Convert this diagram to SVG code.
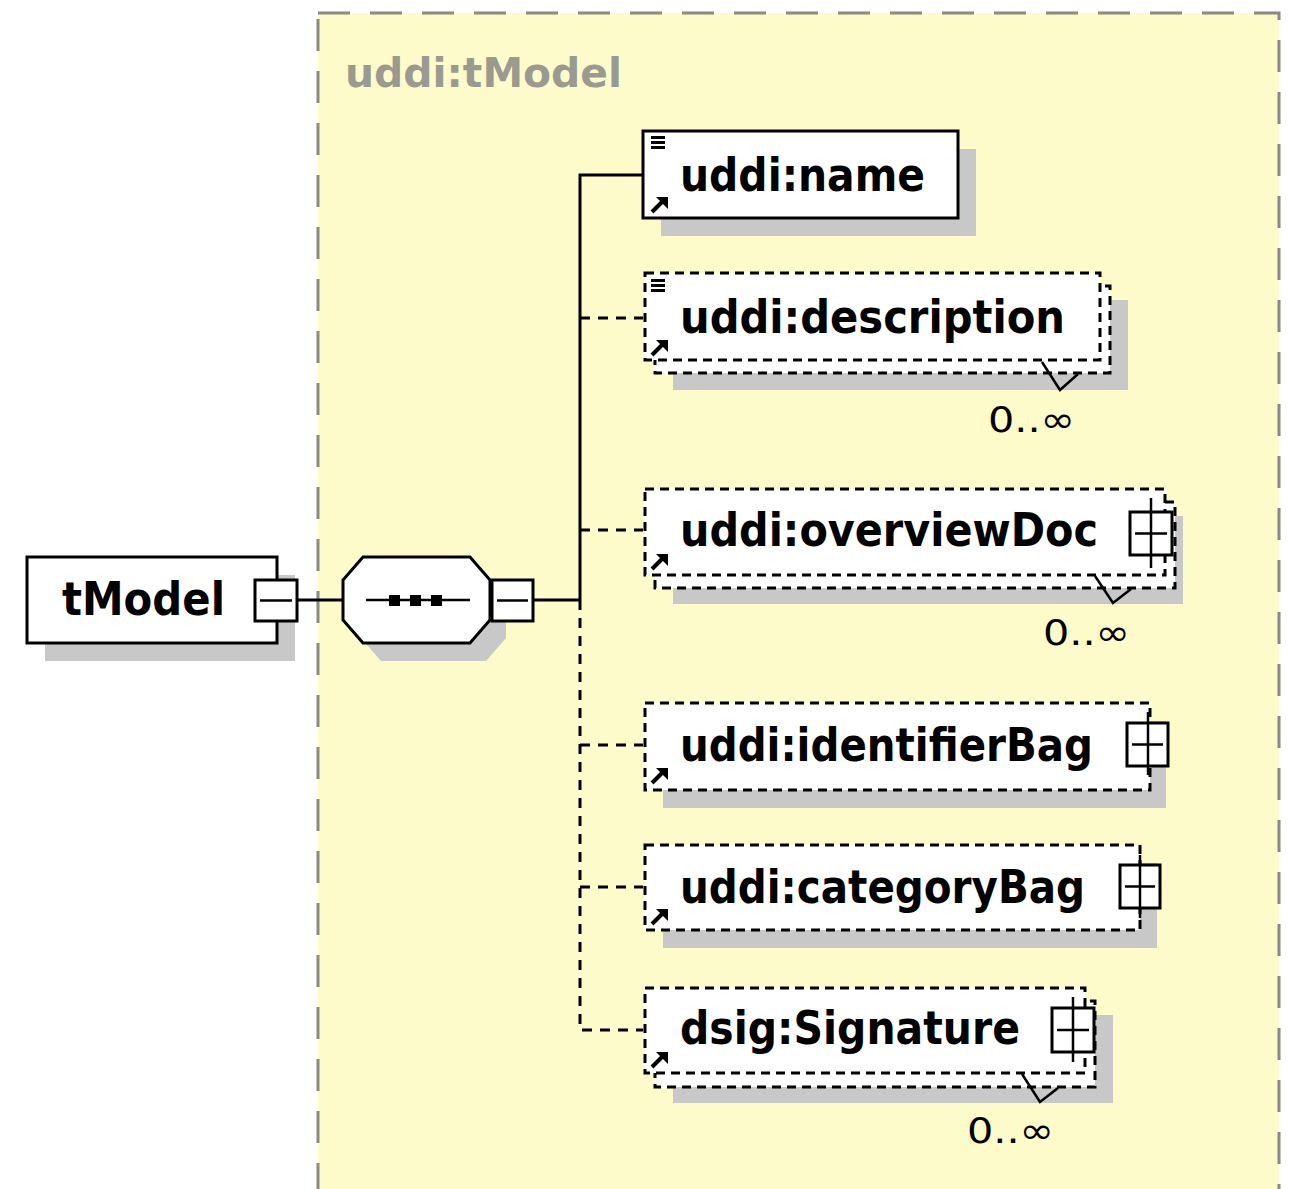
<svg xmlns="http://www.w3.org/2000/svg" width="1293" height="1189" viewBox="0 0 1293 1189">
<style>
.shadow{fill:#c8c8c8}
.box{fill:#fff;stroke:#000;stroke-width:3}
.dbox{fill:#fff;stroke:#000;stroke-width:3;stroke-dasharray:9 6}
.lbl{font-family:"DejaVu Sans",Verdana,sans-serif;font-weight:bold;font-size:46px;fill:#000}
.occ{font-family:"DejaVu Sans",sans-serif;font-size:36px;fill:#000}
.conn{fill:none;stroke:#000;stroke-width:3}
.dconn{fill:none;stroke:#000;stroke-width:3;stroke-dasharray:10 8}
.ico{stroke:#000;stroke-width:2.5;fill:none}
</style>
<defs>
<g id="lines"><path stroke="#000" stroke-width="3" d="M651 1.5h14M651 6.5h14M651 11.5h14"/></g>
<g id="arrow"><path d="M652 17l10 -10" stroke="#000" stroke-width="4"/><path d="M656 2h12v12z" fill="#000"/></g>
</defs>
<rect x="0" y="0" width="1293" height="1189" fill="#fff"/>
<g id="container">
<rect x="318" y="13" width="961" height="1190" fill="#fefbca" stroke="#8a8a80" stroke-width="3" stroke-dasharray="32 20"/>
<text x="345" y="87" font-family="DejaVu Sans,sans-serif" font-weight="bold" font-size="40" fill="#9a9a90" textLength="277" lengthAdjust="spacingAndGlyphs">uddi:tModel</text>
</g>
<g id="connectors">
<path class="conn" d="M297 600H343M533 600H580M580 600V175H643"/>
<path class="dconn" d="M580 600V1030H643M580 318H643M580 530H643M580 745H643M580 887H643"/>
</g>
<g id="tModel">
<rect class="shadow" x="45" y="575" width="250" height="86"/>
<rect class="box" x="27" y="557" width="250" height="86"/>
<text class="lbl" x="62" y="615" textLength="163" lengthAdjust="spacingAndGlyphs">tModel</text>
<rect class="box" x="255" y="580" width="42" height="41"/>
<path class="ico" stroke-width="3" d="M260 600.5h32"/>
</g>
<g id="sequence">
<path class="shadow" d="M381 575h105l20 23v40l-20 23h-105l-20-23v-40z"/>
<path class="box" d="M363 557h107l20 23v40l-20 23h-107l-20-23v-40z"/>
<path class="ico" stroke-width="3" d="M366 600h104"/>
<rect x="389" y="595" width="11" height="11" fill="#000"/>
<rect x="410" y="595" width="11" height="11" fill="#000"/>
<rect x="431" y="595" width="11" height="11" fill="#000"/>
<rect class="box" x="492" y="580" width="41" height="41"/>
<path class="ico" stroke-width="3" d="M497 600.5h31"/>
</g>
<g id="name">
<rect class="shadow" x="661" y="149" width="315" height="87"/>
<rect class="box" x="643" y="131" width="315" height="87"/>
<use href="#lines" y="136"/>
<use href="#arrow" y="195"/>
<text class="lbl" x="680" y="191" textLength="245" lengthAdjust="spacingAndGlyphs">uddi:name</text>
</g>
<g id="description">
<rect class="shadow" x="673" y="300" width="455" height="90"/>
<rect class="dbox" x="655" y="286" width="455" height="87"/>
<rect class="dbox" x="645" y="273" width="455" height="87"/>
<use href="#lines" y="279"/>
<use href="#arrow" y="338"/>
<text class="lbl" x="680" y="333" textLength="385" lengthAdjust="spacingAndGlyphs">uddi:description</text>
<path class="ico" d="M1042 362L1060 390L1078 374"/>
<text class="occ" x="988" y="432" textLength="87" lengthAdjust="spacingAndGlyphs">0..∞</text>
</g>
<g id="overviewDoc">
<rect class="shadow" x="673" y="516" width="510" height="88"/>
<rect class="dbox" x="655" y="502" width="520" height="86"/>
<rect class="dbox" x="645" y="489" width="520" height="86"/>
<use href="#arrow" y="552"/>
<text class="lbl" x="680" y="546" textLength="418" lengthAdjust="spacingAndGlyphs">uddi:overviewDoc</text>
<path class="ico" stroke-width="3" d="M1151 498V568"/>
<rect class="box" x="1130" y="512" width="42" height="43"/>
<path class="ico" stroke-width="3" d="M1151 512V555M1135 533.5h32"/>
<path class="ico" d="M1095 576L1113 603L1131 589"/>
<text class="occ" x="1043" y="645" textLength="87" lengthAdjust="spacingAndGlyphs">0..∞</text>
</g>
<g id="identifierBag">
<rect class="shadow" x="663" y="721" width="503" height="87"/>
<rect class="dbox" x="645" y="703" width="505" height="87"/>
<use href="#arrow" y="766"/>
<text class="lbl" x="680" y="761" textLength="413" lengthAdjust="spacingAndGlyphs">uddi:identifierBag</text>
<path class="ico" stroke-width="3" d="M1148 712V775"/>
<rect class="box" x="1127" y="723" width="41" height="43"/>
<path class="ico" stroke-width="3" d="M1148 723V766M1132 744.5h31"/>
</g>
<g id="categoryBag">
<rect class="shadow" x="663" y="863" width="494" height="85"/>
<rect class="dbox" x="645" y="845" width="495" height="85"/>
<use href="#arrow" y="907"/>
<text class="lbl" x="680" y="903" textLength="405" lengthAdjust="spacingAndGlyphs">uddi:categoryBag</text>
<path class="ico" stroke-width="3" d="M1140 855V918"/>
<rect class="box" x="1120" y="865" width="40" height="43"/>
<path class="ico" stroke-width="3" d="M1140 865V908M1125 886.5h30"/>
</g>
<g id="Signature">
<rect class="shadow" x="673" y="1015" width="440" height="88"/>
<rect class="dbox" x="655" y="1001" width="440" height="86"/>
<rect class="dbox" x="645" y="988" width="440" height="85"/>
<use href="#arrow" y="1050"/>
<text class="lbl" x="680" y="1044" textLength="340" lengthAdjust="spacingAndGlyphs">dsig:Signature</text>
<path class="ico" stroke-width="3" d="M1073 997V1062"/>
<rect class="box" x="1052" y="1008" width="42" height="44"/>
<path class="ico" stroke-width="3" d="M1073 1008V1052M1057 1030h32"/>
<path class="ico" d="M1022 1074L1040 1102L1058 1088"/>
<text class="occ" x="967" y="1143" textLength="87" lengthAdjust="spacingAndGlyphs">0..∞</text>
</g>
</svg>
